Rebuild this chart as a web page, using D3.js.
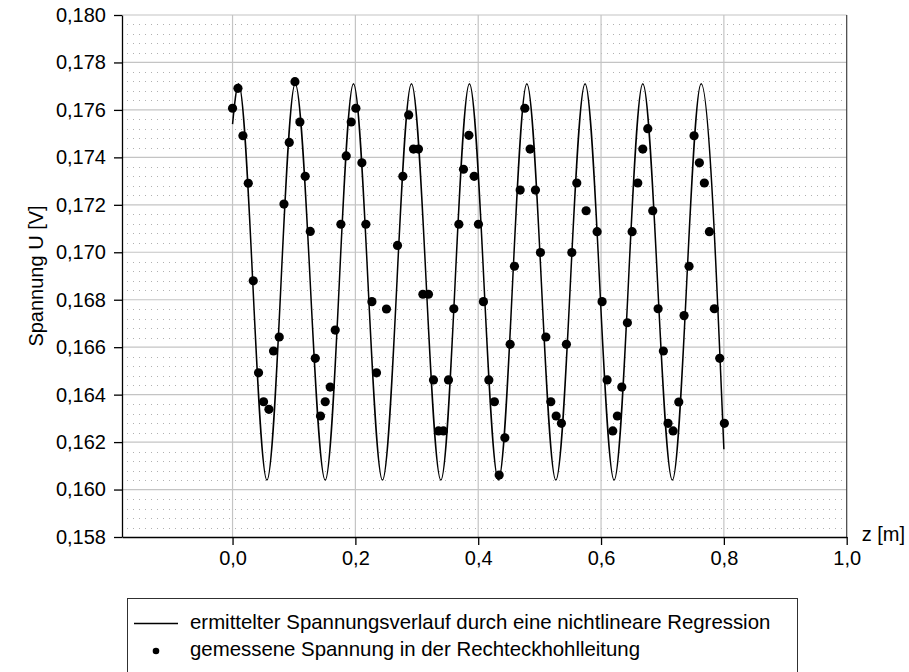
<!DOCTYPE html>
<html>
<head>
<meta charset="utf-8">
<script src="https://cdn.jsdelivr.net/npm/d3@7"></script>
<style>
  body { margin: 0; background: #fff; }
  svg text { font-family: "Liberation Sans", Arial, sans-serif; fill: #000; }
</style>
</head>
<body>
<div id="chart"></div>
<script>
// measured points (z in m, U in V)
const measZ = [0.0000, 0.0088, 0.0169, 0.0256, 0.0337, 0.0423, 0.0505, 0.0592, 0.0667, 0.0760,
  0.0837, 0.0923, 0.1016, 0.1097, 0.1183, 0.1265, 0.1347, 0.1432, 0.1509, 0.1590,
  0.1672, 0.1764, 0.1851, 0.1932, 0.2008, 0.2106, 0.2171, 0.2269, 0.2344, 0.2506,
  0.2686, 0.2773, 0.2868, 0.2946, 0.3027, 0.3099, 0.3190, 0.3272, 0.3353, 0.3434,
  0.3516, 0.3603, 0.3685, 0.3760, 0.3848, 0.3934, 0.4004, 0.4085, 0.4173, 0.4264,
  0.4341, 0.4434, 0.4520, 0.4590, 0.4683, 0.4759, 0.4845, 0.4932, 0.5013, 0.5101,
  0.5182, 0.5269, 0.5355, 0.5436, 0.5524, 0.5605, 0.5757, 0.5936, 0.6017, 0.6099,
  0.6191, 0.6266, 0.6338, 0.6429, 0.6506, 0.6598, 0.6680, 0.6761, 0.6842, 0.6929,
  0.7015, 0.7091, 0.7173, 0.7266, 0.7352, 0.7433, 0.7515, 0.7601, 0.7682, 0.7764,
  0.7845, 0.7933, 0.8008];
const measU = [0.17607, 0.17691, 0.17491, 0.17291, 0.16880, 0.16492, 0.16370, 0.16338, 0.16584, 0.16643,
  0.17203, 0.17463, 0.17719, 0.17549, 0.17320, 0.17088, 0.16553, 0.16310, 0.16370, 0.16432,
  0.16672, 0.17118, 0.17406, 0.17549, 0.17607, 0.17377, 0.17118, 0.16792, 0.16492, 0.16761,
  0.17029, 0.17320, 0.17579, 0.17435, 0.17435, 0.16823, 0.16823, 0.16462, 0.16247, 0.16247,
  0.16462, 0.16762, 0.17118, 0.17350, 0.17493, 0.17320, 0.17118, 0.16792, 0.16462, 0.16370,
  0.16061, 0.16218, 0.16612, 0.16941, 0.17262, 0.17607, 0.17435, 0.17262, 0.16999, 0.16643,
  0.16370, 0.16310, 0.16279, 0.16612, 0.16999, 0.17292, 0.17175, 0.17087, 0.16792, 0.16462,
  0.16247, 0.16310, 0.16432, 0.16703, 0.17087, 0.17292, 0.17435, 0.17521, 0.17175, 0.16762,
  0.16584, 0.16279, 0.16247, 0.16369, 0.16733, 0.16941, 0.17491, 0.17377, 0.17292, 0.17087,
  0.16762, 0.16553, 0.16279];

// regression curve: start, peaks/troughs, end
const fitZ = [0.0000, 0.0098, 0.0560, 0.1020, 0.1509, 0.1969, 0.2441, 0.2913, 0.3392, 0.3857,
  0.4329, 0.4792, 0.5264, 0.5740, 0.6213, 0.6680, 0.7161, 0.7630, 0.8000];
const fitU = [0.1754, 0.1771, 0.1604, 0.1771, 0.1604, 0.1771, 0.1604, 0.1771, 0.1604, 0.1771,
  0.1604, 0.1771, 0.1604, 0.1771, 0.1604, 0.1771, 0.1604, 0.1771, 0.1617];

const xTicks = [0, 0.2, 0.4, 0.6, 0.8, 1.0];
const yTicks = [0.158, 0.160, 0.162, 0.164, 0.166, 0.168, 0.170, 0.172, 0.174, 0.176, 0.178, 0.180];
const yMinorStep = 0.0004;
const legendLabels = ["ermittelter Spannungsverlauf durch eine nichtlineare Regression",
  "gemessene Spannung in der Rechteckhohlleitung"];

const width = 909, height = 672;
const margin = { top: 15, left: 122, right: 62.3, bottom: 135 };
const innerW = width - margin.left - margin.right;
const innerH = height - margin.top - margin.bottom;
const fontSize = 20;

const de = d3.formatLocale({ decimal: ",", thousands: ".", grouping: [3], currency: ["", " €"] });

const svg = d3.select('#chart').append('svg')
  .attr('width', width)
  .attr('height', height);

const x = d3.scaleLinear().domain([-0.18, 1.0]).range([margin.left, margin.left + innerW]);
const y = d3.scaleLinear().domain([0.158, 0.180]).range([margin.top + innerH, margin.top]);

// minor dotted grid
const minor = d3.range(0.158, 0.1801, yMinorStep).filter(v => !yTicks.some(t => Math.abs(t - v) < 1e-6));
svg.append('g').selectAll('line').data(minor).enter().append('line')
  .attr('x1', x.range()[0] + 5).attr('x2', x.range()[1])
  .attr('y1', d => Math.round(y(d)) + 0.5).attr('y2', d => Math.round(y(d)) + 0.5)
  .attr('stroke', '#b0b0b0')
  .attr('stroke-width', 1)
  .attr('stroke-dasharray', '1,5');

// major grid
svg.append('g').selectAll('line').data(yTicks.slice(1)).enter().append('line')
  .attr('x1', x.range()[0]).attr('x2', x.range()[1])
  .attr('y1', d => y(d)).attr('y2', d => y(d))
  .attr('stroke', '#c4c4c4').attr('stroke-width', 1.2);
svg.append('g').selectAll('line').data(xTicks.slice(0, -1)).enter().append('line')
  .attr('x1', d => x(d)).attr('x2', d => x(d))
  .attr('y1', y.range()[0]).attr('y2', y.range()[1])
  .attr('stroke', '#c4c4c4').attr('stroke-width', 1.2);

// right border
svg.append('line')
  .attr('x1', x(1.0)).attr('x2', x(1.0))
  .attr('y1', y.range()[0]).attr('y2', y.range()[1])
  .attr('stroke', '#404040').attr('stroke-width', 1.2);

// axes
const yAxis = d3.axisLeft(y).tickValues(yTicks).tickSize(8).tickSizeOuter(0).tickPadding(8)
  .tickFormat(de.format('.3f'));
const yG = svg.append('g').attr('transform', `translate(${margin.left},0)`).call(yAxis);

const xAxis = d3.axisBottom(x).tickValues(xTicks).tickSize(8).tickSizeOuter(0).tickPadding(6)
  .tickFormat(de.format('.1f'));
const xG = svg.append('g').attr('transform', `translate(0,${margin.top + innerH})`).call(xAxis);

[yG, xG].forEach(g => {
  g.selectAll('text').attr('font-size', fontSize).attr('font-family', '"Liberation Sans", Arial, sans-serif');
  g.selectAll('line, path').attr('stroke', '#000').attr('stroke-width', 1.3);
});

// regression curve
const fit = fitZ.map((z, i) => ({ z, u: fitU[i] }));
const line = d3.line().x(d => x(d.z)).y(d => y(d.u)).curve(d3.curveMonotoneX);
svg.append('path')
  .datum(fit)
  .attr('d', line)
  .attr('fill', 'none')
  .attr('stroke', '#000')
  .attr('stroke-width', 1.5);

// measured points
const pts = measZ.map((z, i) => ({ z, u: measU[i] }));
svg.append('g').selectAll('circle').data(pts).enter().append('circle')
  .attr('cx', d => x(d.z))
  .attr('cy', d => y(d.u))
  .attr('r', 4.6)
  .attr('fill', '#000');

// axis titles
svg.append('text')
  .attr('transform', `translate(43,${margin.top + innerH / 2}) rotate(-90)`)
  .attr('text-anchor', 'middle')
  .attr('font-size', fontSize)
  .text('Spannung U [V]');

svg.append('text')
  .attr('x', 905).attr('y', 541)
  .attr('text-anchor', 'end')
  .attr('font-size', fontSize)
  .text('z [m]');

// legend
const lg = svg.append('g');
lg.append('rect')
  .attr('x', 127.5).attr('y', 598.5)
  .attr('width', 670).attr('height', 100)
  .attr('fill', 'none')
  .attr('stroke', '#303030')
  .attr('stroke-width', 1);
lg.append('line')
  .attr('x1', 134).attr('x2', 178)
  .attr('y1', 623.5).attr('y2', 623.5)
  .attr('stroke', '#000').attr('stroke-width', 1.5);
lg.append('circle')
  .attr('cx', 156).attr('cy', 651).attr('r', 3.3).attr('fill', '#000');
lg.selectAll('text.lab').data(legendLabels).enter().append('text')
  .attr('class', 'lab')
  .attr('x', 190)
  .attr('y', (d, i) => 629 + i * 27)
  .attr('font-size', 20.4)
  .text(d => d);
</script>
</body>
</html>
